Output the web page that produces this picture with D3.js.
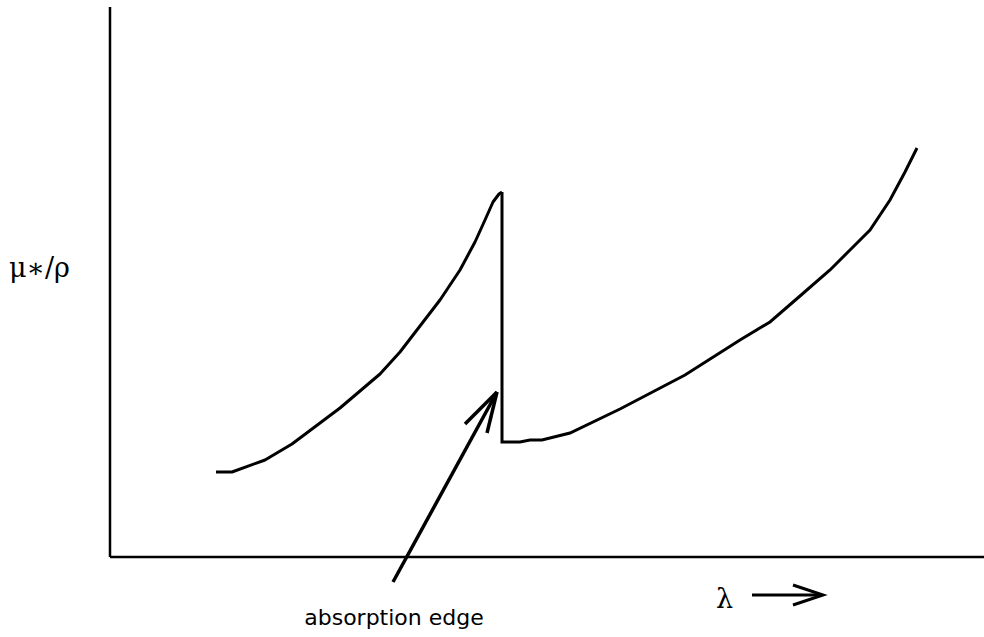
<!DOCTYPE html>
<html>
<head>
<meta charset="utf-8">
<script src="https://cdn.jsdelivr.net/npm/d3@7/dist/d3.min.js"></script>
<style>
  html, body { margin: 0; padding: 0; background: #fff; }
  svg { display: block; }
</style>
</head>
<body>
<svg id="chart" width="984" height="637"></svg>
<script>
// Arbitrary units (wavelength vs. mass absorption coefficient)
const lambdaLow  = [106, 122, 155, 182, 230, 270, 290, 310, 330, 350, 365, 375, 383, 389, 392];
const muLow      = [ 85,  85,  97, 113, 149, 183, 205, 231, 257, 287, 315, 337, 355, 363, 365];
const lambdaHigh = [392, 392, 410, 420, 432, 460, 510, 575, 630, 660, 690, 720, 740, 760, 780, 795, 807];
const muHigh     = [365, 115, 115, 117, 117, 124, 148, 182, 217, 235, 261, 287, 307, 327, 357, 385, 409];
const xDomain = [0, 874];
const yDomain = [0, 550];
// annotation arrow (data units): tail, tip, barbs
const edgeArrow = [[283, -25], [387, 165]];
const edgeBarbs = [[355, 133], [377, 124]];
const yLabel = "μ∗/ρ";
const xLabel = "λ";
const annotation = "absorption edge";

const svg = d3.select("#chart");
const x = d3.scaleLinear().domain(xDomain).range([110, 984]);
const y = d3.scaleLinear().domain(yDomain).range([557, 7]);

// axes as plain lines
svg.append("line")
  .attr("x1", x(0)).attr("x2", x(0)).attr("y1", y(0)).attr("y2", y(550))
  .attr("stroke", "#000").attr("stroke-width", 2.5);
svg.append("line")
  .attr("x1", x(0)).attr("x2", x(874)).attr("y1", y(0)).attr("y2", y(0))
  .attr("stroke", "#000").attr("stroke-width", 2.5);

const line = d3.line().x(d => x(d[0])).y(d => y(d[1]));
const low = lambdaLow.map((v, i) => [v, muLow[i]]);
const high = lambdaHigh.map((v, i) => [v, muHigh[i]]);

svg.append("path").attr("d", line(low))
  .attr("fill", "none").attr("stroke", "#000").attr("stroke-width", 3)
  .attr("stroke-linejoin", "round");
svg.append("path").attr("d", line(high))
  .attr("fill", "none").attr("stroke", "#000").attr("stroke-width", 3)
  .attr("stroke-linejoin", "miter");

// annotation arrow
svg.append("path").attr("d", line(edgeArrow))
  .attr("fill", "none").attr("stroke", "#000").attr("stroke-width", 3.5);
edgeBarbs.forEach(b => {
  svg.append("path").attr("d", line([edgeArrow[1], b]))
    .attr("fill", "none").attr("stroke", "#000").attr("stroke-width", 3.5);
});

// labels
svg.append("text").attr("x", 9).attr("y", 277)
  .style("font-family", "'DejaVu Serif', serif")
  .style("font-size", "27px").text(yLabel);

svg.append("text").attr("x", 716).attr("y", 608)
  .style("font-family", "'DejaVu Serif', serif")
  .style("font-size", "27px").text(xLabel);

// arrow after lambda
svg.append("line").attr("x1", 752).attr("x2", 822).attr("y1", 595).attr("y2", 595)
  .attr("stroke", "#000").attr("stroke-width", 3);
svg.append("path").attr("d", "M793,585 L823,595 L793,605")
  .attr("fill", "none").attr("stroke", "#000").attr("stroke-width", 3);

svg.append("text").attr("x", 394).attr("y", 625)
  .attr("text-anchor", "middle")
  .style("font-family", "'DejaVu Sans', Verdana, sans-serif")
  .style("font-size", "22px").text(annotation);
</script>
</body>
</html>
